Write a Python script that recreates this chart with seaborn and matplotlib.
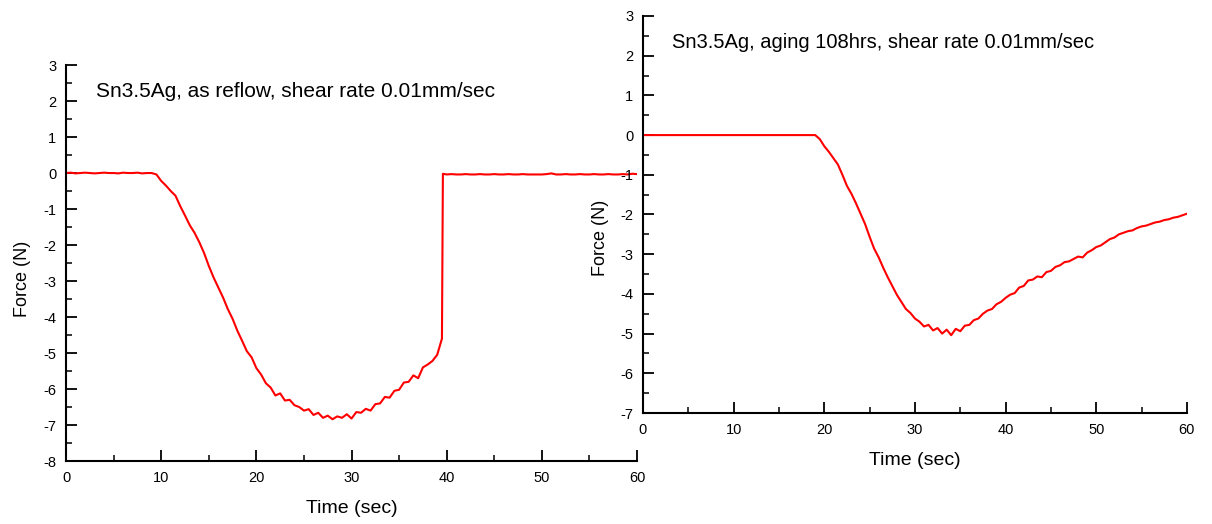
import matplotlib
matplotlib.use('Agg')
import numpy as np
import pandas as pd
import matplotlib.pyplot as plt
import seaborn as sns
from matplotlib.ticker import MultipleLocator

# Fuerza, muestreo cada 0.5 s
# Panel izquierdo: as reflow (0 - 39.5 s, luego salto a cero en 39.6 s)
fuerza_reflow_pre = [
    0.00, 0.01, -0.01, 0.00, 0.01, 0.00, -0.01, 0.00, 0.01, 0.00,      # 0 - 4.5
    0.00, -0.01, 0.01, 0.00, 0.00, 0.01, -0.01, 0.00, 0.00, -0.04,     # 5 - 9.5
    -0.22, -0.35, -0.50, -0.63, -0.92, -1.18, -1.45, -1.66, -1.92, -2.22,  # 10 - 14.5
    -2.58, -2.90, -3.18, -3.46, -3.78, -4.05, -4.38, -4.66, -4.95, -5.12,  # 15 - 19.5
    -5.42, -5.60, -5.84, -5.96, -6.18, -6.12, -6.32, -6.30, -6.45, -6.50,  # 20 - 24.5
    -6.60, -6.56, -6.72, -6.66, -6.80, -6.74, -6.84, -6.76, -6.80, -6.70,  # 25 - 29.5
    -6.82, -6.64, -6.66, -6.55, -6.60, -6.42, -6.40, -6.22, -6.24, -6.05,  # 30 - 34.5
    -6.02, -5.82, -5.80, -5.62, -5.70, -5.40, -5.32, -5.22, -5.05, -4.60,  # 35 - 39.5
]
fuerza_reflow_post = [
    -0.02,                                                              # 39.6
    -0.04, -0.03, -0.04, -0.04, -0.03, -0.04, -0.04, -0.03, -0.04, -0.04,  # 40 - 44.5
    -0.03, -0.04, -0.04, -0.03, -0.04, -0.04, -0.03, -0.04, -0.04, -0.04,  # 45 - 49.5
    -0.04, -0.03, -0.01, -0.04, -0.04, -0.03, -0.04, -0.04, -0.03, -0.04,  # 50 - 54.5
    -0.04, -0.03, -0.04, -0.04, -0.03, -0.04, -0.04, -0.03, -0.04, -0.02,  # 55 - 59.5
    -0.03,                                                              # 60
]

# Panel derecho: aging 108 hrs (0 - 60 s)
fuerza_aging = [
    0.00, 0.00, 0.00, 0.00, 0.00, 0.00, 0.00, 0.00, 0.00, 0.00,        # 0 - 4.5
    0.00, 0.00, 0.00, 0.00, 0.00, 0.00, 0.00, 0.00, 0.00, 0.00,        # 5 - 9.5
    0.00, 0.00, 0.00, 0.00, 0.00, 0.00, 0.00, 0.00, 0.00, 0.00,        # 10 - 14.5
    0.00, 0.00, 0.00, 0.00, 0.00, 0.00, 0.00, 0.00, 0.00, -0.10,       # 15 - 19.5
    -0.28, -0.42, -0.58, -0.74, -1.00, -1.28, -1.48, -1.72, -1.98, -2.24,  # 20 - 24.5
    -2.56, -2.86, -3.08, -3.34, -3.58, -3.80, -4.02, -4.20, -4.38, -4.48,  # 25 - 29.5
    -4.62, -4.70, -4.82, -4.78, -4.92, -4.86, -5.00, -4.90, -5.04, -4.88,  # 30 - 34.5
    -4.94, -4.80, -4.78, -4.66, -4.62, -4.50, -4.42, -4.38, -4.26, -4.20,  # 35 - 39.5
    -4.10, -4.02, -3.98, -3.84, -3.80, -3.66, -3.64, -3.56, -3.58, -3.45,  # 40 - 44.5
    -3.42, -3.32, -3.28, -3.20, -3.18, -3.12, -3.06, -3.08, -2.96, -2.90,  # 45 - 49.5
    -2.82, -2.78, -2.70, -2.62, -2.58, -2.50, -2.46, -2.42, -2.40, -2.34,  # 50 - 54.5
    -2.30, -2.28, -2.24, -2.20, -2.18, -2.14, -2.12, -2.08, -2.06, -2.02,  # 55 - 59.5
    -1.98,                                                              # 60
]

titulo_izq = "Sn3.5Ag, as reflow, shear rate 0.01mm/sec"
titulo_der = "Sn3.5Ag, aging 108hrs, shear rate 0.01mm/sec"

tiempo_pre = np.arange(len(fuerza_reflow_pre)) * 0.5
tiempo_post = np.concatenate([[39.6], 40 + np.arange(len(fuerza_reflow_post) - 1) * 0.5])
df_reflow = pd.DataFrame({
    'tiempo': np.concatenate([tiempo_pre, tiempo_post]),
    'fuerza': fuerza_reflow_pre + fuerza_reflow_post,
})
df_aging = pd.DataFrame({
    'tiempo': np.arange(len(fuerza_aging)) * 0.5,
    'fuerza': fuerza_aging,
})

sns.set_theme(style="ticks")
plt.rcParams['font.family'] = ['Liberation Sans', 'DejaVu Sans']
plt.rcParams['axes.unicode_minus'] = False
plt.rcParams['text.color'] = 'black'
plt.rcParams['axes.labelcolor'] = 'black'

fig = plt.figure(figsize=(12.12, 5.24), dpi=100)
ax1 = fig.add_axes([0.0545, 0.1202, 0.4711, 0.7557])
ax2 = fig.add_axes([0.5305, 0.2118, 0.4488, 0.7577])


def formato_panel(ax, df, titulo, ymin, ymax, x_etiqueta, y_etiqueta, tam_titulo):
    sns.lineplot(data=df, x='tiempo', y='fuerza', ax=ax, color='#ff0000',
                 linewidth=1.5, estimator=None, sort=False)
    ax.set_xlim(0, 60)
    ax.set_ylim(ymin, ymax)
    ax.xaxis.set_major_locator(MultipleLocator(10))
    ax.xaxis.set_minor_locator(MultipleLocator(5))
    ax.yaxis.set_major_locator(MultipleLocator(1))
    ax.yaxis.set_minor_locator(MultipleLocator(0.5))
    ax.tick_params(which='major', direction='in', length=8, width=1.3,
                   labelsize=10.5, colors='black', labelcolor='black', pad=7)
    ax.tick_params(which='minor', direction='in', length=4, width=1.3)
    for s in ['top', 'right']:
        ax.spines[s].set_visible(False)
    for s in ['left', 'bottom']:
        ax.spines[s].set_linewidth(1.5)
        ax.spines[s].set_color('black')
    ax.set_xlabel("Time (sec)", fontsize=14, labelpad=11)
    ax.set_ylabel("Force (N)", fontsize=13)
    ax.yaxis.set_label_coords(x_etiqueta, y_etiqueta)
    ax.text(0.053, 0.957, titulo, transform=ax.transAxes, fontsize=tam_titulo,
            ha='left', va='top', color='black')
    ax.patch.set_alpha(0)


formato_panel(ax1, df_reflow, titulo_izq, -8, 3, -0.061, 0.46, 15)
formato_panel(ax2, df_aging, titulo_der, -7, 3, -0.063, 0.44, 14.5)

plt.savefig("out.png", dpi=100)
plt.close()
